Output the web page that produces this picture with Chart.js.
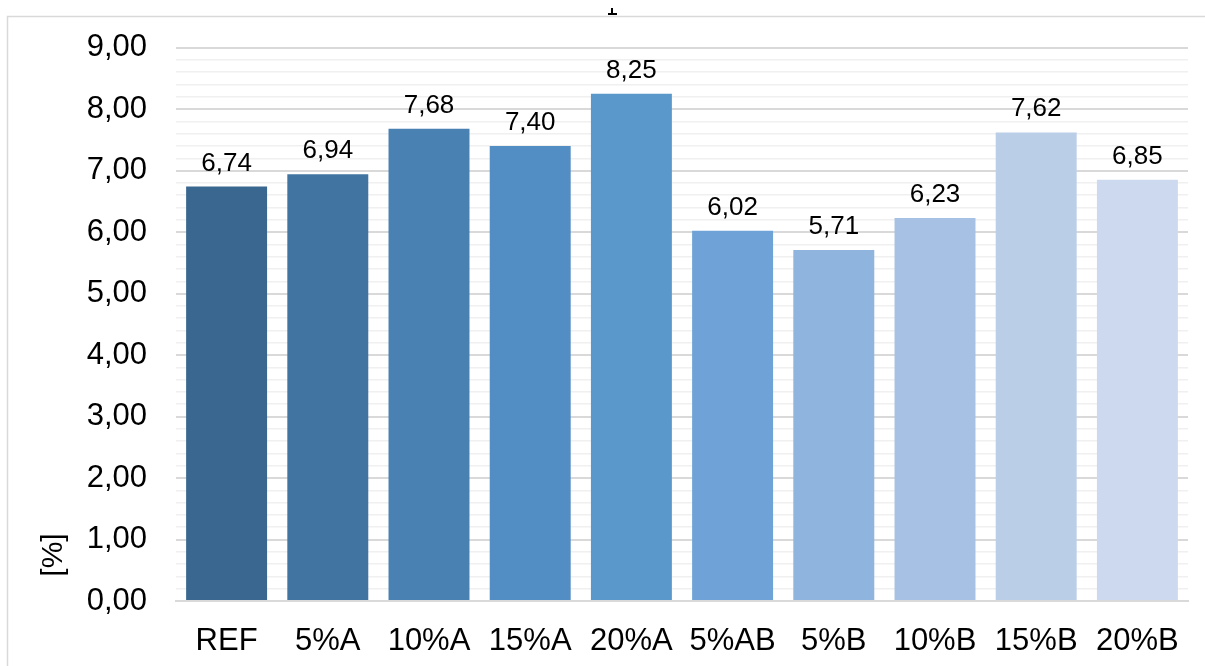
<!DOCTYPE html>
<html>
<head>
<meta charset="utf-8">
<script src="https://cdn.jsdelivr.net/npm/chart.js@4/dist/chart.umd.min.js"></script>
<style>
  html, body { margin: 0; padding: 0; background: #fff; overflow: hidden; }
  #wrap { width: 1205px; height: 666px; position: relative; }
</style>
</head>
<body>
<div id="wrap"><canvas id="c" width="1205" height="666"></canvas></div>
<script>
const categories = ['REF', '5%A', '10%A', '15%A', '20%A', '5%AB', '5%B', '10%B', '15%B', '20%B'];
const values = [6.74, 6.94, 7.68, 7.40, 8.25, 6.02, 5.71, 6.23, 7.62, 6.85];
const barColors = ['#3a6790', '#4274a2', '#4a81b3', '#528dc3', '#5a98cc',
                   '#6fa2d6', '#8fb4de', '#a7c1e4', '#bacee8', '#cdd9ee'];
const yMin = 0, yMax = 9, yStep = 0.2;
const yTitle = '[%]';

const FONT = "'Liberation Sans', Arial, sans-serif";
const fmt = v => v.toFixed(2).replace('.', ',');
const isMajor = v => Math.abs(v - Math.round(v)) < 1e-6;

// Frame (left and top edges) plus the small marker above it
const framePlugin = {
  id: 'frame',
  beforeDraw(chart) {
    const ctx = chart.ctx;
    ctx.save();
    ctx.strokeStyle = '#d9d9d9';
    ctx.lineWidth = 1.5;
    ctx.beginPath();
    ctx.moveTo(7.5, 666);
    ctx.lineTo(7.5, 16.5);
    ctx.lineTo(1205, 16.5);
    ctx.stroke();
    ctx.fillStyle = '#000';
    ctx.fillRect(611, 8, 2, 7);
    ctx.fillRect(608, 13, 9, 2);
    ctx.restore();
  }
};

// Value labels above each bar and the rotated axis title
const labelPlugin = {
  id: 'valueLabels',
  afterDatasetsDraw(chart) {
    const ctx = chart.ctx;
    const meta = chart.getDatasetMeta(0);
    ctx.save();
    ctx.fillStyle = '#000';
    ctx.font = '26px ' + FONT;
    ctx.textAlign = 'center';
    ctx.textBaseline = 'alphabetic';
    meta.data.forEach((bar, i) => {
      ctx.fillText(fmt(values[i]), bar.x, bar.y - 16);
    });
    ctx.font = '30px ' + FONT;
    ctx.translate(62, 555);
    ctx.rotate(-Math.PI / 2);
    ctx.textAlign = 'center';
    ctx.fillText(yTitle, 0, 0);
    ctx.restore();
  }
};

new Chart(document.getElementById('c'), {
  type: 'bar',
  data: {
    labels: categories,
    datasets: [{
      data: values,
      backgroundColor: barColors,
      borderWidth: 0,
      barPercentage: 0.8,
      categoryPercentage: 1.0
    }]
  },
  options: {
    responsive: false,
    animation: false,
    devicePixelRatio: 1,
    layout: { padding: { left: 0, right: 17, top: 47, bottom: 0 } },
    plugins: { legend: { display: false }, tooltip: { enabled: false } },
    scales: {
      x: {
        grid: { display: false },
        border: { display: true, color: '#d9d9d9', width: 2 },
        ticks: {
          color: '#000',
          font: { family: FONT, size: 31 },
          padding: 14,
          maxRotation: 0,
          autoSkip: false
        },
        afterFit(scale) { scale.height = 65; }
      },
      y: {
        min: yMin,
        max: yMax,
        border: { display: false },
        grid: {
          drawTicks: false,
          color: ctx => isMajor(ctx.tick.value) ? '#d9d9d9' : '#f0f0f0',
          lineWidth: ctx => isMajor(ctx.tick.value) ? 2 : 1.5
        },
        ticks: {
          stepSize: yStep,
          autoSkip: false,
          color: '#000',
          font: { family: FONT, size: 31 },
          padding: 29,
          callback: v => isMajor(v) ? fmt(v) : ''
        },
        afterFit(scale) { scale.width = 176; }
      }
    }
  },
  plugins: [framePlugin, labelPlugin]
});
</script>
</body>
</html>
